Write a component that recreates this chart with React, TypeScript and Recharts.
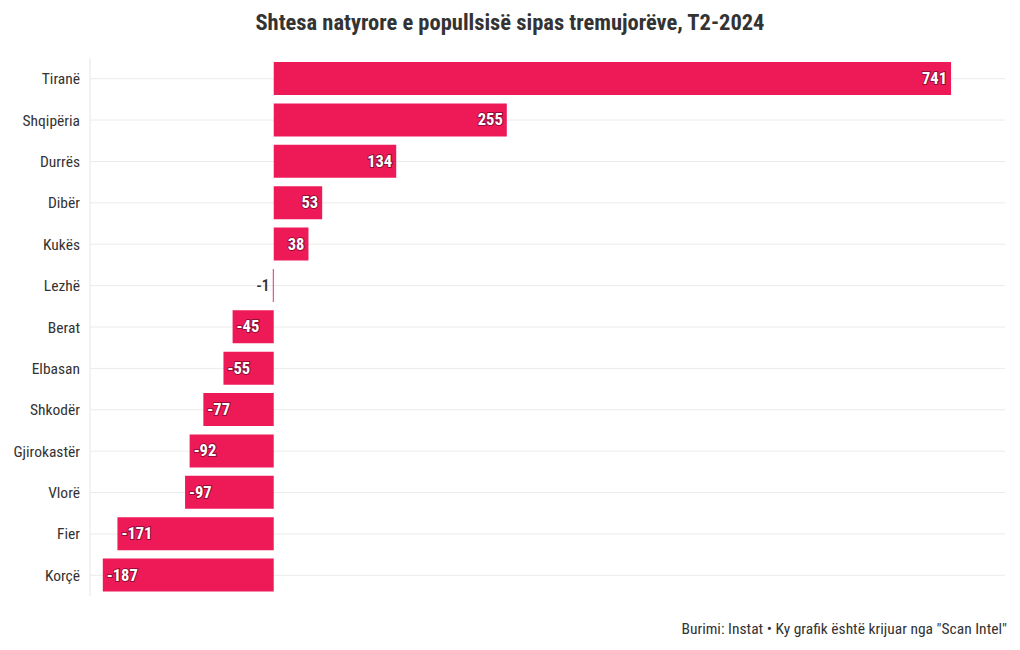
import React from "react";
import { BarChart, Bar, XAxis, YAxis, CartesianGrid, LabelList } from "recharts";

const categories = ["Tiranë", "Shqipëria", "Durrës", "Dibër", "Kukës", "Lezhë", "Berat", "Elbasan", "Shkodër", "Gjirokastër", "Vlorë", "Fier", "Korçë"];
const values = [741, 255, 134, 53, 38, -1, -45, -55, -77, -92, -97, -171, -187];
const title = "Shtesa natyrore e popullsisë sipas tremujorëve, T2-2024";
const footer = "Burimi: Instat • Ky grafik është krijuar nga \"Scan Intel\"";

const data = categories.map((c, i) => ({ name: c, value: values[i] }));

const FONT = "'Roboto Condensed', 'Liberation Sans Narrow', 'DejaVu Sans Condensed', 'Roboto', sans-serif";
const BAR = "#EE1A58";

const renderLabel = (props: any) => {
  const { x, y, width, height, value } = props;
  const left = Math.min(x, x + width);
  const right = Math.max(x, x + width);
  const cy = y + height / 2;
  const common = { fontFamily: FONT, fontSize: 16.5, fontWeight: 700 } as any;
  if (value >= 0) {
    return (
      <text x={right - 4} y={cy} textAnchor="end" dominantBaseline="central" fill="#fff" stroke="rgba(60,0,20,0.5)" strokeWidth={2} paintOrder="stroke" {...common}>
        {value}
      </text>
    );
  }
  if (right - left < 20) {
    return (
      <text x={left - 3} y={cy} textAnchor="end" dominantBaseline="central" fill="#333" {...common} fontWeight={500}>
        {value}
      </text>
    );
  }
  return (
    <text x={left + 4} y={cy} textAnchor="start" dominantBaseline="central" fill="#fff" stroke="rgba(60,0,20,0.5)" strokeWidth={2} paintOrder="stroke" {...common}>
      {value}
    </text>
  );
};

// horizontal grid lines at the centre of each category band (no top/bottom border lines)
const gridGen = (args: any) => {
  const off = args && args.offset;
  if (!off) return [];
  const n = categories.length;
  return categories.map((_, i) => off.top + (off.height * (i + 0.5)) / n);
};

export default function App() {
  return (
    <div style={{ position: "relative", width: 1020, height: 650, background: "#fff", fontFamily: FONT }}>
      <style>{`body{margin:0}`}</style>
      <div style={{ position: "absolute", top: 7, left: 0, width: 1020, textAlign: "center", fontSize: 22.5, fontWeight: 700, color: "#333", lineHeight: "30px" }}>
        {title}
      </div>
      <BarChart
        width={1020}
        height={650}
        data={data}
        layout="vertical"
        margin={{ top: 58, right: 15, bottom: 54, left: 10 }}
        barCategoryGap={4}
      >
        <CartesianGrid horizontal={true} vertical={false} stroke="#ebebeb" horizontalCoordinatesGenerator={gridGen} />
        <XAxis type="number" domain={[-201, 800]} hide />
        <YAxis
          type="category"
          dataKey="name"
          width={80}
          tickSize={0}
          tickMargin={10}
          axisLine={{ stroke: "#e6e6e6" }}
          tickLine={false}
          tick={{ fill: "#333", fontSize: 15.5, fontFamily: FONT }}
        />
        <Bar dataKey="value" fill={BAR} isAnimationActive={false}>
          <LabelList dataKey="value" content={renderLabel} />
        </Bar>
      </BarChart>
      <div style={{ position: "absolute", top: 618, right: 13, fontSize: 15.5, color: "#333", lineHeight: "22px" }}>
        {footer}
      </div>
    </div>
  );
}
